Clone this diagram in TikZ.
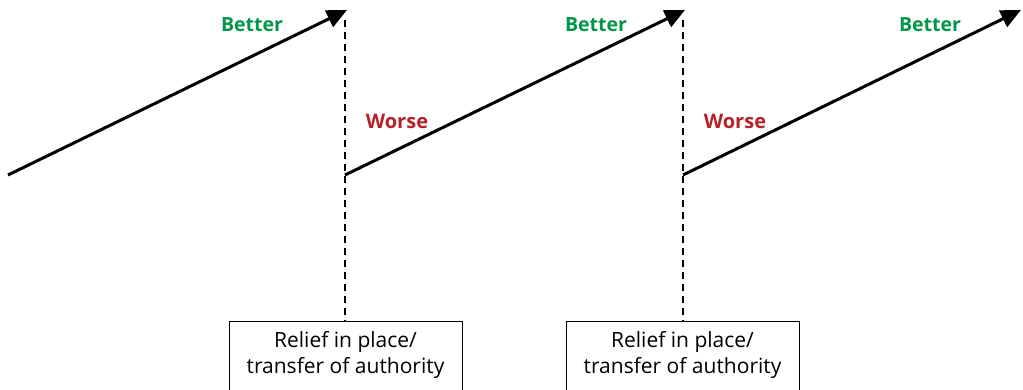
\documentclass[tikz,border=0pt]{standalone}
\usepackage{fontspec}
\setmainfont{Open Sans}
\usetikzlibrary{arrows.meta}
\definecolor{bettergreen}{RGB}{0,150,72}
\definecolor{worsered}{RGB}{183,32,40}
\begin{document}
\begin{tikzpicture}[x=1pt,y=-1pt,
  trend/.style={line width=3pt,-{Triangle[length=20pt,width=18pt]}},
  handover/.style={line width=2pt,dash pattern=on 7pt off 5pt},
  box/.style={draw,line width=1pt,minimum width=233pt,minimum height=80pt,inner sep=0pt},
  boxtext/.style={align=center,font=\fontsize{21}{25.5}\selectfont},
  better/.style={text=bettergreen,font=\bfseries\fontsize{19.5}{22}\selectfont},
  worse/.style={text=worsered,font=\bfseries\fontsize{20}{22}\selectfont}]
\useasboundingbox (0,0) rectangle (1023,389);
\clip (0,0) rectangle (1023,389);

% rising trend segments
\coordinate (s1) at (8,175);   \coordinate (t1) at (347,10);
\coordinate (s2) at (345,175); \coordinate (t2) at (685,10);
\coordinate (s3) at (683,175); \coordinate (t3) at (1021,10);
\draw[trend] (s1) -- (t1);
\draw[trend] (s2) -- (t2);
\draw[trend] (s3) -- (t3);

% handover boxes
\node[box] (r1) at (345.5,361) {};
\node[box] (r2) at (682.5,361) {};
\node[boxtext] (l1) at (345.5,355) {Relief in place/\\transfer of authority};
\node[boxtext] (l2) at (682.5,355) {Relief in place/\\transfer of authority};

% dashed drops from each peak
\coordinate (d1) at (345,20);
\coordinate (d2) at (683,20);
\draw[handover] (d1) -- (r1.north -| d1);
\draw[handover] (d2) -- (r2.north -| d2);

% labels
\node[better] (b1) at (252,25) {Better};
\node[better] (b2) at (596,25) {Better};
\node[better] (b3) at (930,25) {Better};
\node[worse] (w1) at (397,121) {Worse};
\node[worse] (w2) at (735,121) {Worse};
\end{tikzpicture}
\end{document}
